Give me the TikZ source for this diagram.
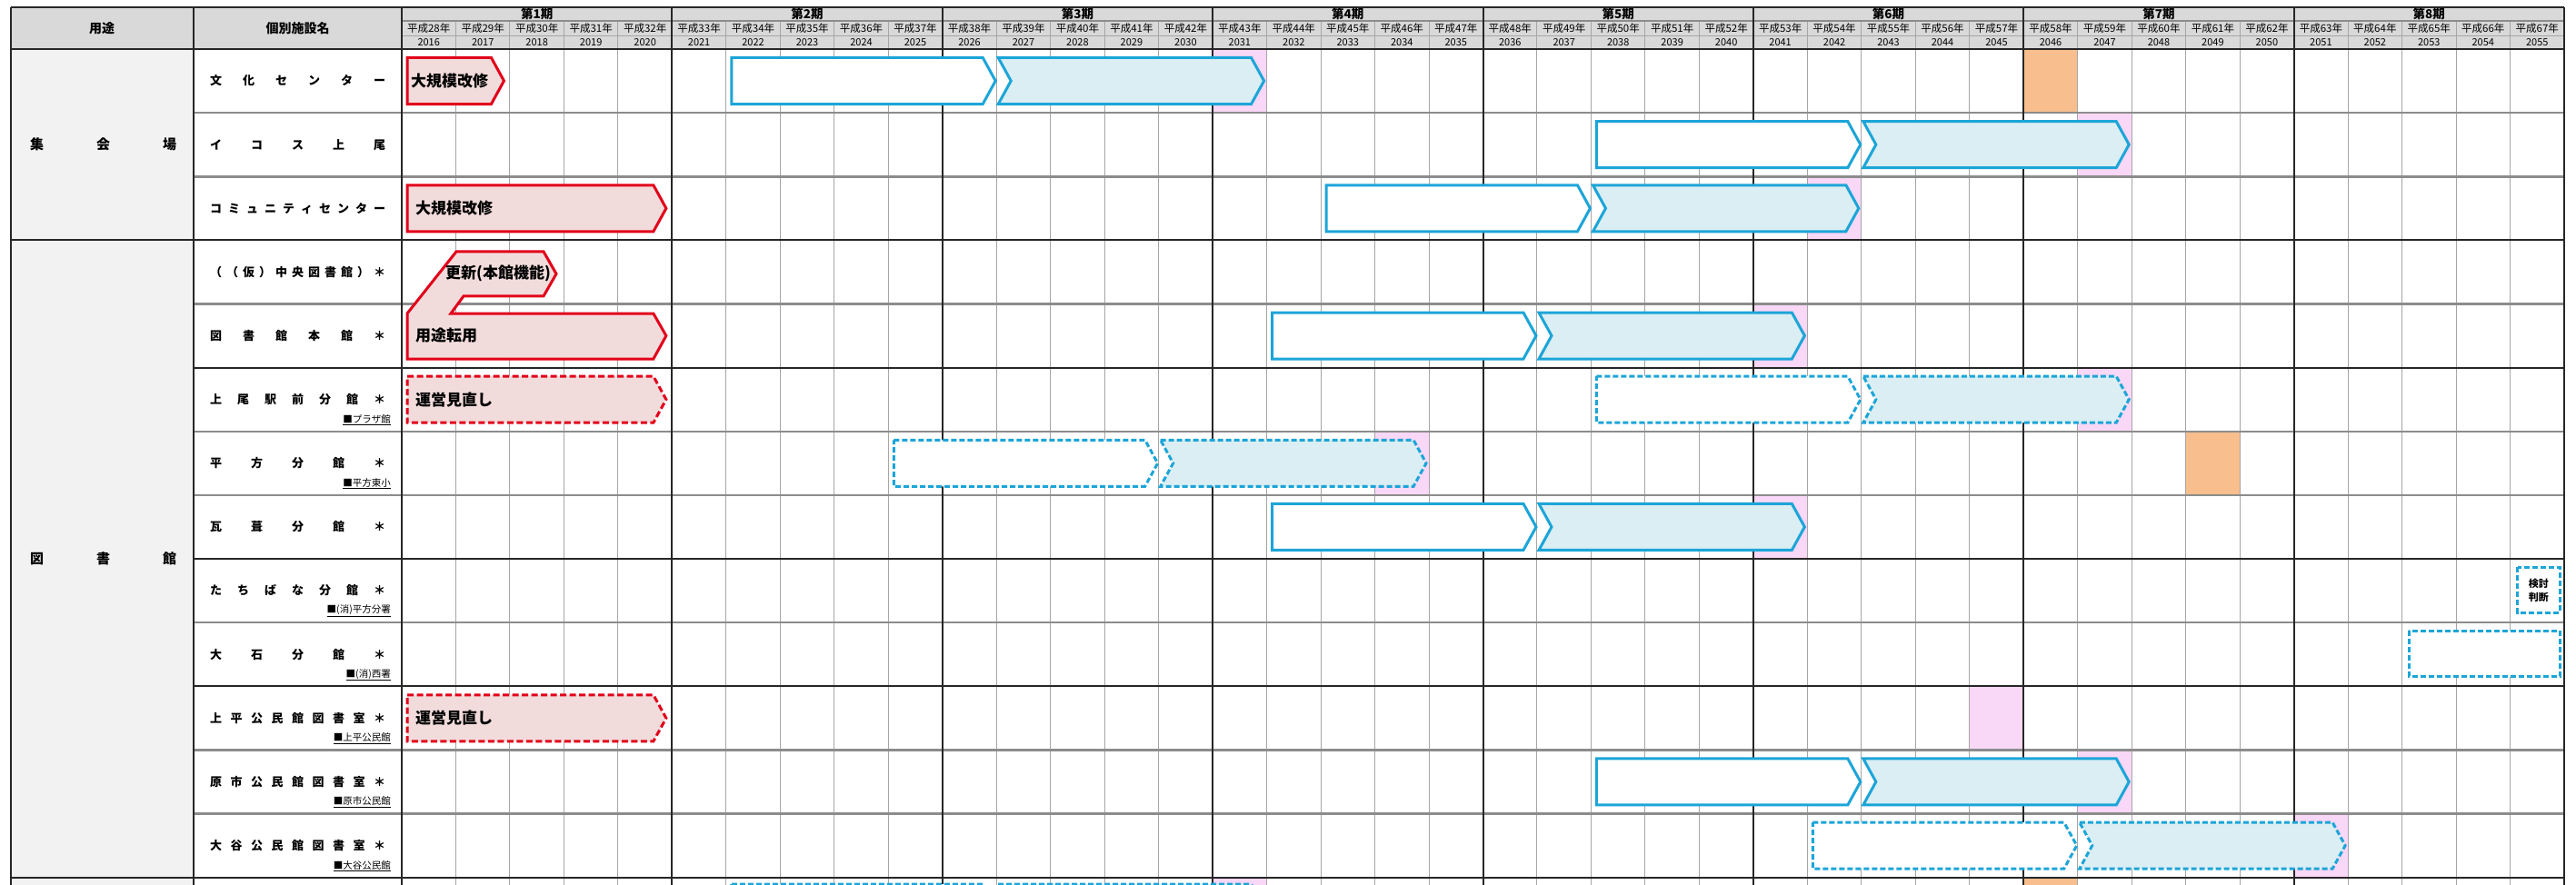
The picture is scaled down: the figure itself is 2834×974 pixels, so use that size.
\documentclass[tikz,border=0pt]{standalone}
\usepackage{fontspec}
\setmainfont{Noto Sans CJK JP}
\newfontfamily\jp{Noto Sans CJK JP}
\definecolor{hdrgray}{HTML}{D9D9D9}
\definecolor{usegray}{HTML}{F2F2F2}
\definecolor{redln}{HTML}{E2001A}
\definecolor{redfill}{HTML}{F2DCDB}
\definecolor{blueln}{HTML}{1CA5D8}
\definecolor{bluefill}{HTML}{DAEEF3}
\definecolor{pinkc}{HTML}{F9D7F6}
\definecolor{orangec}{HTML}{F8BE8D}
\definecolor{gridg}{HTML}{A6A6A6}
\definecolor{rowg}{HTML}{8C8C8C}
\newcommand\colx[1]{(442+59.475*(#1))}
\newcommand\rowy[1]{(54+70.13*(#1))}
\newcommand\spr[1]{\makebox[193pt][s]{#1}}
\newcommand\cellfill[3]{\fill[#3] ({\colx{#2}},{\rowy{#1}}) rectangle ({\colx{#2+1}},{\rowy{#1+1}});}
\newcommand\redbar[3]{%
 \draw[#3] ({\colx{0}+6},{\rowy{#1}+9.5}) -- ({\colx{#2}-20.5},{\rowy{#1}+9.5}) -- ({\colx{#2}-6.5},{\rowy{#1}+35}) -- ({\colx{#2}-20.5},{\rowy{#1}+60.5}) -- ({\colx{0}+6},{\rowy{#1}+60.5}) -- cycle;}
\newcommand\bpair[3]{%
 \draw[#3,fill=white] ({\colx{#2}+6},{\rowy{#1}+9.5}) -- ({\colx{#2+5}-15},{\rowy{#1}+9.5}) -- ({\colx{#2+5}-1},{\rowy{#1}+35}) -- ({\colx{#2+5}-15},{\rowy{#1}+60.5}) -- ({\colx{#2}+6},{\rowy{#1}+60.5}) -- cycle;
 \draw[#3,fill=bluefill] ({\colx{#2+5}+2},{\rowy{#1}+9.5}) -- ({\colx{#2+10}-17},{\rowy{#1}+9.5}) -- ({\colx{#2+10}-3},{\rowy{#1}+35}) -- ({\colx{#2+10}-17},{\rowy{#1}+60.5}) -- ({\colx{#2+5}+2},{\rowy{#1}+60.5}) -- ({\colx{#2+5}+16},{\rowy{#1}+35}) -- cycle;}
\newcommand\facname[3]{\node[fac] (#2) at (231,{\rowy{#1}+35}) {\spr{#3}};}
\newcommand\facsub[3]{\node[subt] (#2) at (430,{\rowy{#1}+57.5}) {\underline{#3}};}
\begin{document}
\begin{tikzpicture}[x=1pt,y=-1pt,
  vthin/.style={draw=gridg,line width=1pt},
  vbold/.style={draw=black!85,line width=2pt},
  hgray/.style={draw=rowg,line width=2.5pt},
  hblack/.style={draw=black!85,line width=2pt},
  reds/.style={draw=redln,fill=redfill,line width=3pt},
  redd/.style={reds,dash pattern=on 7pt off 3.5pt},
  blues/.style={draw=blueln,line width=3pt},
  blued/.style={blues,dash pattern=on 6pt off 3pt},
  fac/.style={anchor=west,inner sep=0pt,font=\jp\bfseries\fontsize{13}{13}\selectfont},
  subt/.style={anchor=east,inner sep=0pt,font=\jp\fontsize{10.5}{10.5}\selectfont},
  bartext/.style={anchor=west,inner sep=0pt,font=\jp\bfseries\fontsize{17}{17}\selectfont},
  hdr/.style={inner sep=0pt,font=\jp\bfseries\fontsize{14}{14}\selectfont},
  per/.style={inner sep=0pt,font=\jp\bfseries\fontsize{13.5}{13.5}\selectfont},
  hs/.style={inner sep=0pt,font=\jp\fontsize{11.5}{11.5}\selectfont},
  yrs/.style={inner sep=0pt,font=\jp\fontsize{11}{11}\selectfont},
  grp/.style={anchor=west,inner sep=0pt,font=\jp\bfseries\fontsize{15}{15}\selectfont}]
\fill[white] (0,0) rectangle (2834,974);
\useasboundingbox (0,0) rectangle (2834,974);
% fills
\fill[hdrgray] (12,8) rectangle ({\colx{40}},54);
\fill[usegray] (12,54) rectangle (213,974);
\cellfill{0}{15}{pinkc}
\cellfill{1}{31}{pinkc}
\cellfill{2}{26}{pinkc}
\cellfill{4}{25}{pinkc}
\cellfill{5}{31}{pinkc}
\cellfill{6}{18}{pinkc}
\cellfill{7}{25}{pinkc}
\cellfill{10}{29}{pinkc}
\cellfill{11}{31}{pinkc}
\cellfill{12}{35}{pinkc}
\cellfill{13}{15}{pinkc}
\cellfill{0}{30}{orangec}
\cellfill{6}{33}{orangec}
\cellfill{13}{30}{orangec}
% thin year lines
\foreach \i in {1,...,39} {\draw[vthin] ({\colx{\i}},23) -- ({\colx{\i}},974);}
% header horizontals
\draw[draw=rowg,line width=1.5pt] ({\colx{0}},23) -- ({\colx{40}},23);
\draw[draw=gridg,line width=1pt] ({\colx{0}},40) -- ({\colx{40}},40);
% row lines
\foreach \r in {1,2,4,6,7,9,11,12} {\draw[hgray] (213,{\rowy{\r}}) -- ({\colx{40}},{\rowy{\r}});}
\foreach \r in {5,8,10} {\draw[hblack] (213,{\rowy{\r}}) -- ({\colx{40}},{\rowy{\r}});}
\foreach \r in {3,13} {\draw[hblack] (12,{\rowy{\r}}) -- ({\colx{40}},{\rowy{\r}});}
% bold verticals
\foreach \i in {0,5,...,40} {\draw[vbold] ({\colx{\i}},8) -- ({\colx{\i}},974);}
\draw[vbold] (12,8) -- (12,974);
\draw[vbold] (213,8) -- (213,974);
\draw[draw=black!85,line width=2.5pt] (12,8) -- ({\colx{40}},8);
\draw[hblack] (12,54) -- ({\colx{40}},54);
% header texts
\node[hdr] (h1) at (112,31) {用途};
\node[hdr] (h2) at (327.5,31) {個別施設名};
\foreach \k in {1,...,8} {\node[per] (per\k) at ({\colx{5*\k-2.5}},15.5) {第\k 期};}
\foreach \i in {0,...,39} {
  \pgfmathtruncatemacro\hsn{28+\i}
  \pgfmathtruncatemacro\yrn{2016+\i}
  \node[hs] (hs\i) at ({\colx{\i+0.5}},31.5) {平成\hsn 年};
  \node[yrs] (yr\i) at ({\colx{\i+0.5}},47) {\yrn};
}
% group labels
\node[grp] (g1) at (33,{\rowy{1.5}}) {\makebox[161pt][s]{集\hfill 会\hfill 場}};
\node[grp] (g2) at (33,{\rowy{8}}) {\makebox[161pt][s]{図\hfill 書\hfill 館}};
% facility names
\facname{0}{f0}{文\hfill 化\hfill セ\hfill ン\hfill タ\hfill ー}
\facname{1}{f1}{イ\hfill コ\hfill ス\hfill 上\hfill 尾}
\facname{2}{f2}{コ\hfill ミ\hfill ュ\hfill ニ\hfill テ\hfill ィ\hfill セ\hfill ン\hfill タ\hfill ー}
\facname{3}{f3}{（\hfill （\hfill 仮\hfill ）\hfill 中\hfill 央\hfill 図\hfill 書\hfill 館\hfill ）\hfill ＊}
\facname{4}{f4}{図\hfill 書\hfill 館\hfill 本\hfill 館\hfill ＊}
\facname{5}{f5}{上\hfill 尾\hfill 駅\hfill 前\hfill 分\hfill 館\hfill ＊}
\facname{6}{f6}{平\hfill 方\hfill 分\hfill 館\hfill ＊}
\facname{7}{f7}{瓦\hfill 葺\hfill 分\hfill 館\hfill ＊}
\facname{8}{f8}{た\hfill ち\hfill ば\hfill な\hfill 分\hfill 館\hfill ＊}
\facname{9}{f9}{大\hfill 石\hfill 分\hfill 館\hfill ＊}
\facname{10}{f10}{上\hfill 平\hfill 公\hfill 民\hfill 館\hfill 図\hfill 書\hfill 室\hfill ＊}
\facname{11}{f11}{原\hfill 市\hfill 公\hfill 民\hfill 館\hfill 図\hfill 書\hfill 室\hfill ＊}
\facname{12}{f12}{大\hfill 谷\hfill 公\hfill 民\hfill 館\hfill 図\hfill 書\hfill 室\hfill ＊}
\facsub{5}{s5}{■プラザ館}
\facsub{6}{s6}{■平方東小}
\facsub{8}{s8}{■(消)平方分署}
\facsub{9}{s9}{■(消)西署}
\facsub{10}{s10}{■上平公民館}
\facsub{11}{s11}{■原市公民館}
\facsub{12}{s12}{■大谷公民館}
% red bars
\redbar{0}{2}{reds}
\redbar{2}{5}{reds}
\redbar{5}{5}{redd}
\redbar{10}{5}{redd}
\draw[reds] (448,{\rowy{4}+60.5}) -- (448,{\rowy{4}+10.5}) -- (502,{\rowy{3}+12.5}) -- (598,{\rowy{3}+12.5}) -- (612,{\rowy{3}+37}) -- (598,{\rowy{3}+61.5}) -- (510,{\rowy{3}+61.5}) -- (496,{\rowy{4}+10.5}) -- ({\colx{5}-20.5},{\rowy{4}+10.5}) -- ({\colx{5}-6.5},{\rowy{4}+35}) -- ({\colx{5}-20.5},{\rowy{4}+60.5}) -- cycle;
\node[bartext] (t0) at (452,{\rowy{0}+35}) {大規模改修};
\node[bartext] (t2) at (457,{\rowy{2}+35}) {大規模改修};
\node[bartext] (t3) at (490,{\rowy{3}+37}) {更新(本館機能)};
\node[bartext] (t4) at (457,{\rowy{4}+35}) {用途転用};
\node[bartext] (t5) at (457,{\rowy{5}+35}) {運営見直し};
\node[bartext] (t10) at (457,{\rowy{10}+35}) {運営見直し};
% blue bars
\bpair{0}{6}{blues}
\bpair{1}{22}{blues}
\bpair{2}{17}{blues}
\bpair{4}{16}{blues}
\bpair{5}{22}{blued}
\bpair{6}{9}{blued}
\bpair{7}{16}{blues}
\bpair{11}{22}{blues}
\bpair{12}{26}{blued}
\bpair{12.97}{6}{blued}
\draw[blued,fill=white] (2769.6,{\rowy{8}+9.2}) rectangle (2816,{\rowy{8}+59.4});
\node[inner sep=0pt,align=center,font=\jp\bfseries\fontsize{11}{15}\selectfont] (kt) at (2792.8,{\rowy{8}+34.3}) {検討\\判断};
\draw[blued,fill=white] (2650.4,{\rowy{9}+9}) rectangle (2816,{\rowy{9}+59.8});
\end{tikzpicture}
\end{document}
